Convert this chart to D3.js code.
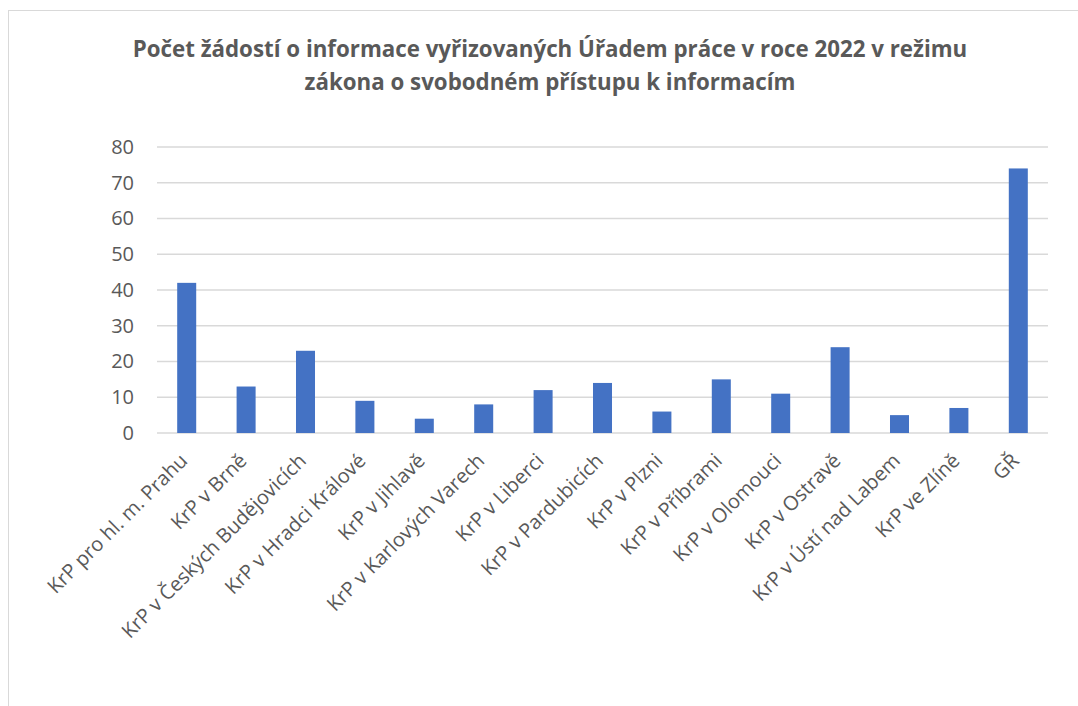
<!DOCTYPE html>
<html>
<head>
<meta charset="utf-8">
<script src="https://cdn.jsdelivr.net/npm/d3@7"></script>
<style>
  body { margin: 0; background: #fff; }
  text { font-family: "Open Sans", sans-serif; }
</style>
</head>
<body>
<div id="chart"></div>
<script>
const categories = [
    "KrP pro hl. m. Prahu", "KrP v Brně", "KrP v Českých Budějovicích",
    "KrP v Hradci Králové", "KrP v Jihlavě", "KrP v Karlových Varech",
    "KrP v Liberci", "KrP v Pardubicích", "KrP v Plzni", "KrP v Příbrami",
    "KrP v Olomouci", "KrP v Ostravě", "KrP v Ústí nad Labem", "KrP ve Zlíně", "GŘ"
];
const counts = [42, 13, 23, 9, 4, 8, 12, 14, 6, 15, 11, 24, 5, 7, 74];
const yTicks = [0, 10, 20, 30, 40, 50, 60, 70, 80];
const titleLines = [
    "Počet žádostí o informace vyřizovaných Úřadem práce v roce 2022 v režimu",
    "zákona o svobodném přístupu k informacím"
];

const W = 1078, H = 706;
const margin = { top: 147, right: 30, bottom: 273, left: 157 };

const svg = d3.select("#chart")
    .append("svg")
    .attr("width", W)
    .attr("height", H);

// chart frame
svg.append("rect")
    .attr("x", 8.5)
    .attr("y", 10.5)
    .attr("width", W + 20)
    .attr("height", H + 20)
    .attr("fill", "#fff")
    .attr("stroke", "#d9d9d9")
    .attr("stroke-width", 1);

const x = d3.scaleBand()
    .domain(categories)
    .range([margin.left, W - margin.right])
    .paddingInner(0.68)
    .paddingOuter(0.34);

const y = d3.scaleLinear()
    .domain([0, 80])
    .range([H - margin.bottom, margin.top]);

// gridlines
svg.append("g")
    .selectAll("line")
    .data(yTicks)
    .join("line")
    .attr("x1", margin.left)
    .attr("x2", W - margin.right)
    .attr("y1", d => y(d))
    .attr("y2", d => y(d))
    .attr("stroke", "#d9d9d9")
    .attr("stroke-width", 1.5);

svg.append("g")
    .attr("fill", "#4472c4")
    .selectAll("rect")
    .data(counts)
    .join("rect")
    .attr("x", (d, i) => x(categories[i]))
    .attr("y", d => y(d))
    .attr("width", x.bandwidth())
    .attr("height", d => y(0) - y(d));

// y axis labels
const yAxis = svg.append("g")
    .attr("transform", `translate(${margin.left - 23},0)`)
    .call(d3.axisLeft(y).tickValues(yTicks).tickSize(0).tickPadding(0));
yAxis.select(".domain").remove();
yAxis.selectAll("text")
    .attr("font-size", 20)
    .attr("font-family", "Open Sans, sans-serif")
    .attr("fill", "#595959");

// x axis labels
const xAxis = svg.append("g")
    .attr("transform", `translate(0,${y(0)})`)
    .call(d3.axisBottom(x).tickSize(0).tickPadding(0));
xAxis.select(".domain").remove();
xAxis.selectAll("text")
    .attr("font-size", 20)
    .attr("font-family", "Open Sans, sans-serif")
    .attr("fill", "#595959")
    .attr("text-anchor", "end")
    .attr("dy", "0.35em")
    .attr("transform", "translate(-3,24) rotate(-45)");

// title
svg.append("g")
    .selectAll("text")
    .data(titleLines)
    .join("text")
    .attr("x", 550)
    .attr("y", (d, i) => 57 + i * 33)
    .attr("text-anchor", "middle")
    .attr("font-size", 22.3)
    .attr("font-weight", "bold")
    .attr("fill", "#595959")
    .text(d => d);
</script>
</body>
</html>
